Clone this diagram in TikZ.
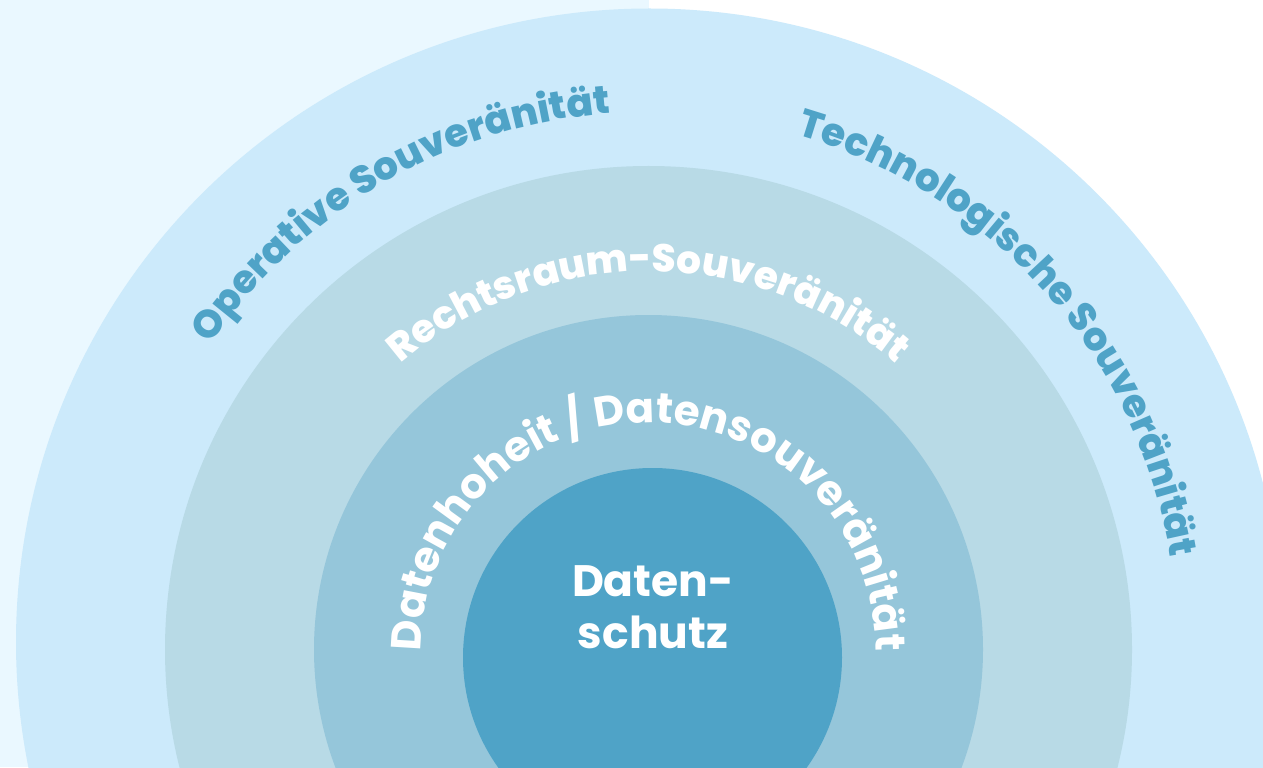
\documentclass[tikz,border=0pt]{standalone}
\usepackage{fontspec}
\usepackage{tikz}
\usetikzlibrary{decorations.text}

\newfontfamily\ringfont{Poppins}
\newfontfamily\heavyfont{Poppins ExtraBold}
\definecolor{paleleft}{HTML}{EAF8FF}
\definecolor{ringone}{HTML}{CCEAFB}
\definecolor{ringtwo}{HTML}{B8DAE6}
\definecolor{ringthree}{HTML}{95C6DA}
\definecolor{ringcore}{HTML}{4FA3C7}

\tikzset{
  arctext/.style={postaction={decorate},
    decoration={text along path, text align=center, text={#1}}},
}

\begin{document}
\begin{tikzpicture}
  [x=.5pt, y=.5pt]
  \useasboundingbox (0,0) rectangle (1263,767);
  \clip (0,0) rectangle (1263,767);
  \fill[white] (0,0) rectangle (1263,767);
  \fill[paleleft] (0,0) rectangle (649,767);

  \coordinate (c0) at (649.5,125);
  \coordinate (c) at (648.5,117.5);
  \coordinate (c4) at (652.5,109.5);

  \fill[ringone] (c0) circle[radius=633.5];
  \fill[ringtwo] (c) circle[radius=483.5];
  \fill[ringthree] (c) circle[radius=334.5];
  \fill[ringcore] (c4) circle[radius=189.5];

  % outer ring
  \path[arctext={|\heavyfont\fontsize{19.5}{19.5}\selectfont\color{ringcore}|Operative Souveränität}]
    ([shift={(166:530)}]c0) arc[start angle=166, end angle=74, radius=530];
  \path[arctext={|\heavyfont\fontsize{19.5}{19.5}\selectfont\color{ringcore}|Technologische Souveränität}]
    ([shift={(90.5:528)}]c0) arc[start angle=90.5, end angle=-7.5, radius=528];

  % middle rings
  \path[arctext={|\heavyfont\fontsize{19.5}{19.5}\selectfont\color{white}|Rechtsraum-Souveränität}]
    ([shift={(145:378)}]c) arc[start angle=145, end angle=35, radius=378];
  \path[arctext={|\ringfont\bfseries\fontsize{21}{21}\selectfont\color{white}|Datenhoheit / Datensouveränität}]
    ([shift={(205:227)}]c) arc[start angle=205, end angle=-25, radius=227];

  % core
  \node[align=center, inner sep=0, text=white,
    font=\ringfont\bfseries\fontsize{22}{26}\selectfont] (schutz) at (653,159.5) {Daten-\\schutz};
\end{tikzpicture}
\end{document}
